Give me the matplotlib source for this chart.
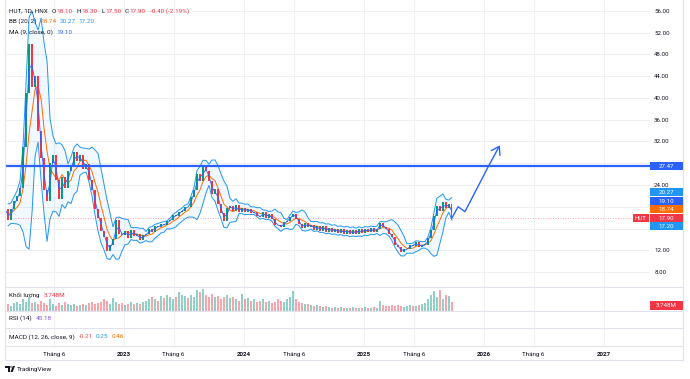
import matplotlib
matplotlib.use('Agg')
import matplotlib.pyplot as plt
import matplotlib.dates as mdates
import matplotlib.transforms as mtrans
from matplotlib.lines import Line2D
from matplotlib.patches import Rectangle, Circle, Polygon
import numpy as np
import pandas as pd

plt.rcParams['font.family'] = ['Roboto', 'DejaVu Sans']

# ---------------- data ----------------
closes = [
    19.5, 17.5, 19.5, 21.0, 22.0, 23.5, 31.0, 41.0, 50.0, 42.0,
    44.0, 34.0, 29.0, 23.0, 21.0, 28.0, 29.5, 25.0, 21.5, 25.5,
    23.5, 26.5, 27.5, 30.0, 28.5, 29.5, 27.0, 27.8, 25.0, 23.0,
    19.5, 18.0, 15.5, 14.5, 11.8, 13.0, 14.0, 17.5, 15.0, 14.8,
    15.5, 14.2, 15.8, 14.6, 14.9, 13.8, 14.8, 14.9, 15.9, 15.4,
    16.5, 16.2, 16.8, 16.6, 17.3, 17.6, 18.4, 18.3, 19.1, 19.3,
    20.0, 19.9, 21.8, 23.0, 26.0, 24.8, 27.3, 26.5, 24.8, 22.3,
    23.2, 20.5, 18.9, 17.4, 19.8, 20.1, 19.3, 20.3, 19.0, 19.8,
    19.1, 19.6, 18.9, 19.0, 18.3, 18.1, 19.0, 18.0, 18.6, 17.7,
    16.7, 16.6, 16.3, 17.2, 17.4, 18.2, 18.7, 17.8, 16.9, 16.1,
    17.0, 16.3, 16.7, 15.7, 16.5, 15.6, 16.4, 15.4, 16.1, 15.3,
    16.0, 15.1, 15.9, 15.0, 15.8, 14.9, 15.7, 15.0, 15.9, 15.2,
    16.0, 15.3, 16.1, 15.4, 16.0, 17.1, 16.2, 16.0, 14.9, 14.4,
    13.0, 12.6, 11.7, 12.2, 12.2, 13.0, 12.8, 13.5, 12.6, 13.0,
    13.0, 14.3, 15.8, 18.3, 20.2, 19.2, 20.8, 19.8, 20.5, 17.9,
]
first_open = 19.0
volumes = [
    2.5, 3.0, 2.0, 3.5, 4.0, 3.0, 5.0, 4.0, 6.0, 3.5,
    4.0, 3.0, 4.5, 3.5, 2.5, 5.0, 3.0, 2.0, 3.5, 2.5,
    4.0, 3.0, 2.5, 3.0, 2.0, 2.5, 3.0, 2.5, 3.5, 4.0,
    3.0, 3.5, 4.0, 5.0, 4.5, 3.0, 5.5, 4.0, 3.0, 3.5,
    2.5, 3.0, 4.0, 3.0, 3.5, 3.0, 4.0, 4.5, 5.0, 6.0,
    5.0, 4.5, 6.5, 5.5, 7.0, 6.0, 5.0, 6.0, 8.0, 7.0,
    6.5, 5.5, 7.0, 6.0, 9.0, 8.0, 9.5, 7.0, 6.0, 7.5,
    6.0, 6.5, 5.0, 6.0, 7.0, 5.5, 6.0, 5.0, 4.5, 7.5,
    5.0, 5.5, 4.5, 5.0, 4.0, 4.5, 5.0, 4.0, 4.5, 3.5,
    4.0, 5.0, 4.5, 4.0, 5.0, 6.0, 8.5, 5.0, 4.0, 3.5,
    3.0, 3.0, 2.5, 2.0, 2.5, 2.0, 1.8, 2.2, 1.8, 1.5,
    1.7, 1.5, 1.6, 1.4, 1.5, 1.4, 1.6, 1.3, 1.5, 1.4,
    1.6, 1.5, 1.4, 1.6, 1.5, 4.5, 2.5, 2.0, 2.2, 2.5,
    2.0, 2.5, 2.2, 1.8, 2.0, 2.5, 2.2, 2.0, 2.5, 3.0,
    3.5, 5.0, 7.0, 8.5, 6.0, 9.0, 5.0, 7.0, 6.5, 3.748,
]
start_date, end_date = '2022-01-04', '2025-09-25'

price_ticks = [8, 12, 24, 32, 36, 40, 44, 48, 52, 56]
grid_levels = [8, 12, 16, 20, 24, 28, 32, 36, 40, 44, 48, 52, 56]
hline_level = 27.47
last_close = 17.90
arrow_dates = ['2025-09-25', '2025-10-14', '2025-11-04', '2026-01-14', '2026-02-18']
arrow_prices = [17.9, 20.0, 19.1, 27.4, 31.3]
time_ticks = ['2022-06-01', '2023-01-01', '2023-06-01', '2024-01-01', '2024-06-01',
              '2025-01-01', '2025-06-01', '2026-01-01', '2026-06-01', '2027-01-01']
time_labels = ['Tháng 6', '2023', 'Tháng 6', '2024', 'Tháng 6', '2025',
               'Tháng 6', '2026', 'Tháng 6', '2027']
# right-axis value labels: (shown value, position, colour)
value_labels = [('27.47', 27.47, '#2962FF'), ('20.27', 22.69, '#2196F3'),
                ('19.10', 21.03, '#2962FF'), ('18.74', 19.57, '#FF6D00'),
                ('17.90', 17.92, '#F23645'), ('17.20', 16.44, '#2196F3')]

# ---------------- colours ----------------
UP, DOWN = '#089981', '#F23645'
TXT = '#131722'
GRID = '#EEF0F4'
BORDER = '#E0E3EB'

W, H = 690, 379
fig = plt.figure(figsize=(W / 100, H / 100), dpi=100)
fig.patch.set_facecolor('white')


def rect(x0, y0, x1, y1):
    return [x0 / W, 1 - y1 / H, (x1 - x0) / W, (y1 - y0) / H]


ax = fig.add_axes(rect(5, 0, 650, 287))
axv = fig.add_axes(rect(5, 287, 650, 311), sharex=ax)
axr = fig.add_axes(rect(5, 311, 650, 328), sharex=ax)
axm = fig.add_axes(rect(5, 328, 650, 346), sharex=ax)

dates = pd.date_range(start_date, end_date, periods=len(closes))
dnum = mdates.date2num(dates)
c = np.array(closes)
o = np.concatenate([[first_open], c[:-1]])
up = c >= o
cols = np.where(up, UP, DOWN)

x0 = mdates.date2num(pd.Timestamp('2023-01-01'))
xlim = (x0 + (5 - 124) / 0.3285, x0 + (650 - 124) / 0.3285)

for a in (ax, axv, axr, axm):
    a.set_xlim(*xlim)
    for s in a.spines.values():
        s.set_visible(False)
    a.tick_params(axis='both', length=0)
    a.set_yticks([])
    for tk in time_ticks:
        a.axvline(mdates.date2num(pd.Timestamp(tk)), color=GRID, lw=0.7, zorder=0)

# price pane
ax.set_ylim(5.243, 58.02)
for g in grid_levels:
    ax.axhline(g, color=GRID, lw=0.7, zorder=0)
ax.yaxis.tick_right()
ax.set_yticks(price_ticks)
ax.set_yticklabels([f'{v:.2f}' for v in price_ticks])
ax.tick_params(axis='y', pad=3, labelsize=4.4, labelcolor=TXT)
ax.tick_params(axis='x', labelbottom=False)

s = pd.Series(c)
basis = s.rolling(5, min_periods=2).mean()
sd = s.rolling(5, min_periods=2).std(ddof=0)
upper = basis + 2 * sd
lower = basis - 2 * sd
ma = s.rolling(2, min_periods=1).mean()

ax.fill_between(dnum, lower, upper, color='#2196F3', alpha=0.06, lw=0, zorder=1)
ax.plot(dnum, upper, color='#2196F3', lw=0.7, zorder=2)
ax.plot(dnum, lower, color='#2196F3', lw=0.7, zorder=2)
ax.plot(dnum, basis, color='#FF6D00', lw=0.7, zorder=2)

ax.bar(dnum, np.maximum(np.abs(c - o), 0.12), bottom=np.minimum(c, o), width=4.0,
       color=cols, lw=0, zorder=3)
ax.plot(dnum, ma, color='#2962FF', lw=0.6, zorder=4)

ax.axhline(last_close, color=DOWN, lw=0.6, ls=(0, (1, 2)), alpha=0.6, zorder=1)
ax.axhline(hline_level, color='#2962FF', lw=1.6, zorder=5)

ad = mdates.date2num(pd.to_datetime(arrow_dates))
ax.plot(ad[:-1], arrow_prices[:-1], color='#2962FF', lw=1.0, zorder=5)
ax.annotate('', xy=(ad[-1], arrow_prices[-1]), xytext=(ad[-2], arrow_prices[-2]),
            arrowprops=dict(arrowstyle='->,head_length=0.45,head_width=0.3',
                            color='#2962FF', lw=1.0, mutation_scale=12,
                            shrinkA=0, shrinkB=0), zorder=5)

# right-side labels
bt = mtrans.blended_transform_factory(fig.transFigure, ax.transData)
hpx = 8.3 / 5.447
for txt, yv, colr in value_labels:
    fig.add_artist(Rectangle((650 / W, yv - hpx / 2), 33 / W, hpx, transform=bt,
                             facecolor=colr, edgecolor='none', zorder=10, clip_on=False))
    fig.text(666.5 / W, yv, txt, transform=bt, color='white', fontsize=4.4,
             ha='center', va='center', zorder=11)
fig.add_artist(Rectangle((633 / W, 17.92 - hpx / 2), 15.5 / W, hpx, transform=bt,
                         facecolor=DOWN, edgecolor='none', zorder=10, clip_on=False))
fig.text(640.75 / W, 17.92, 'HUT', transform=bt, color='white', fontsize=4.4,
         ha='center', va='center', zorder=11)

# volume pane
vols = np.array(volumes)
axv.set_ylim(0, 10.3)
axv.bar(dnum, vols, width=6.5, color=cols, alpha=0.45, lw=0)
fig.add_artist(Rectangle((650 / W, 1 - 309.5 / H), 33 / W, 8.3 / H, transform=fig.transFigure,
                         facecolor=DOWN, edgecolor='none', zorder=10))
fig.text(666.5 / W, 1 - 305.3 / H, '3.748M', color='white', fontsize=4.4,
         ha='center', va='center', zorder=11)

# time axis labels on MACD pane bottom
axm.set_xticks(mdates.date2num(pd.to_datetime(time_ticks)))
axm.set_xticklabels(time_labels)
axm.tick_params(axis='x', pad=4.5, labelsize=4.5, labelcolor=TXT)
for lab in axm.get_xticklabels():
    if lab.get_text().isdigit():
        lab.set_fontweight('bold')
for a in (ax, axv, axr):
    a.tick_params(axis='x', labelbottom=False)


# borders / separators
def hline(y, xa=5, xb=683):
    fig.add_artist(Line2D([xa / W, xb / W], [1 - y / H, 1 - y / H], color=BORDER, lw=0.8))


def vline(x, ya=0, yb=360):
    fig.add_artist(Line2D([x / W, x / W], [1 - ya / H, 1 - yb / H], color=BORDER, lw=0.8))


for y in (287, 311, 328, 346, 360):
    hline(y)
vline(5)
vline(683)

# legend texts, chained left to right
renderer = fig.canvas.get_renderer()


def chain(x, y, parts, size=4.6):
    for txt, colr, gap in parts:
        x += gap
        tx = fig.text(x / W, 1 - y / H, txt, color=colr, fontsize=size, va='center', ha='left')
        x += tx.get_window_extent(renderer).width


chain(9.3, 11.5, [('HUT, 1D, HNX', TXT, 0), ('O', TXT, 3.5), ('18.10', DOWN, 0.3),
                  ('H', TXT, 4), ('18.30', DOWN, 0.3), ('L', TXT, 4), ('17.50', DOWN, 0.3),
                  ('C', TXT, 4), ('17.90', DOWN, 0.3), ('-0.40 (-2.19%)', DOWN, 4)])
chain(9.3, 21.5, [('BB (20, 2)', TXT, 0), ('18.74', '#FF6D00', 3.5),
                  ('20.27', '#2196F3', 3), ('17.20', '#2196F3', 3)])
chain(9.3, 32, [('MA (9, close, 0)', TXT, 0), ('19.10', '#2962FF', 3.5)])
chain(9.3, 295.7, [('Khối lượng', TXT, 0), ('3.748M', DOWN, 3.5)])
chain(9.3, 318.3, [('RSI (14)', TXT, 0), ('45.18', '#7E57C2', 3.5)])
chain(9.3, 336.7, [('MACD (12, 26, close, 9)', TXT, 0), ('-0.21', '#FF5252', 3.5),
                   ('0.25', '#2196F3', 3), ('0.46', '#FF6D00', 3)])


# TradingView logo
def fx(x):
    return x / W


def fy(y):
    return 1 - y / H


fig.add_artist(Polygon([(fx(5), fy(366)), (fx(9.5), fy(366)), (fx(9.5), fy(372)),
                        (fx(7.5), fy(372)), (fx(7.5), fy(368)), (fx(5), fy(368))],
                       closed=True, transform=fig.transFigure, facecolor=TXT, edgecolor='none'))
fig.add_artist(Circle((fx(11), fy(367)), 1.0 / W, transform=fig.transFigure,
                      facecolor=TXT, edgecolor='none'))
fig.add_artist(Polygon([(fx(10.5), fy(372)), (fx(12.8), fy(366)), (fx(15), fy(366)),
                        (fx(12.7), fy(372))], closed=True, transform=fig.transFigure,
                       facecolor=TXT, edgecolor='none'))
fig.text(fx(16.7), fy(369.3), 'TradingView', color=TXT, fontsize=4.6, va='center', ha='left')

fig.savefig('out.png', dpi=100, facecolor='white')
